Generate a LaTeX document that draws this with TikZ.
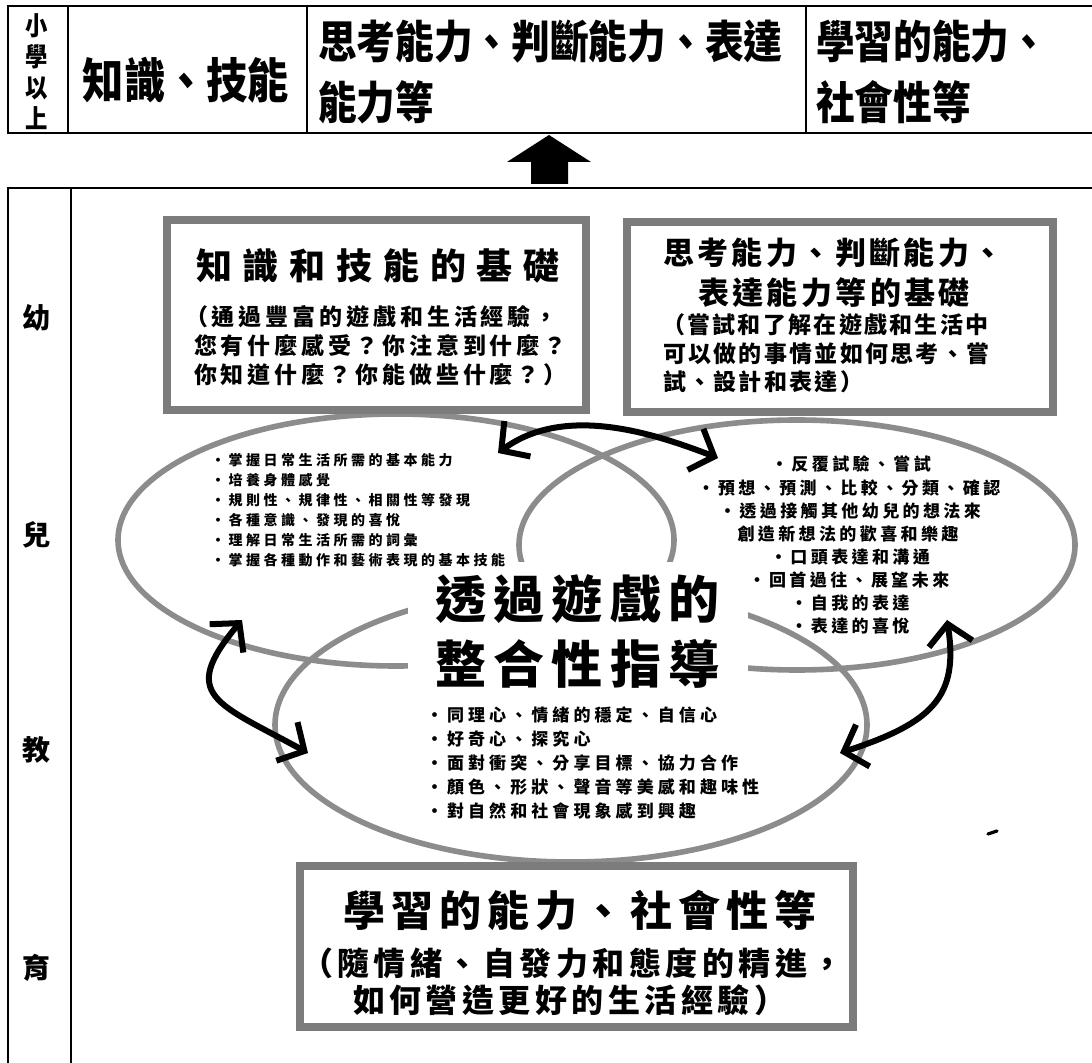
\documentclass[tikz,border=0pt]{standalone}
\usepackage{fontspec}
\setmainfont{Noto Sans CJK TC}
\usetikzlibrary{arrows.meta,shapes.geometric}
\definecolor{boxgray}{HTML}{7C7C7C}
\definecolor{ellgray}{HTML}{8C8C8C}
\newcommand\cjf[3]{\fontsize{#1}{#2}\selectfont\bfseries\addfontfeatures{LetterSpace=#3}}
\newcommand\cjn[2]{\fontsize{#1}{#2}\selectfont\bfseries\addfontfeatures{FakeStretch=0.86}}
\tikzset{
  frameline/.style={line width=1.1pt},
  gbox/.style={draw=boxgray,line width=4pt,fill=white,inner sep=0pt},
  ell/.style={draw=ellgray,line width=2.8pt,ellipse,inner sep=0pt},
  harrow/.style={line width=3pt,line cap=round,line join=round,
     arrows={Straight Barb[length=10pt,width=22pt]-Straight Barb[length=10pt,width=22pt]}},
  txt/.style={inner sep=0pt,outer sep=0pt},
  tabtxt/.style={txt,font=\cjn{22.5pt}{26pt}},
  b1sub/.style={txt,anchor=west,font=\cjf{11.5pt}{14pt}{17}},
  b2sub/.style={txt,anchor=west,font=\cjf{11.5pt}{14pt}{10}},
  lbul/.style={txt,anchor=west,font=\cjf{7pt}{9pt}{25}},
  rbul/.style={txt,font=\cjf{8.5pt}{10pt}{20}},
  bbul/.style={txt,anchor=west,font=\cjf{8.5pt}{10pt}{24}},
  side/.style={txt,font=\cjf{14pt}{16pt}{0}},
}
\begin{document}
\begin{tikzpicture}[x=0.5pt,y=-0.5pt]
\useasboundingbox (0,0) rectangle (1092,1063);
\fill[white] (0,0) rectangle (1092,1063);

% ---- top table
\draw[frameline] (1092,6) -- (8,6) -- (8,133) -- (1092,133);
\draw[frameline] (68,6) -- (68,133) (307,6) -- (307,133) (806,6) -- (806,133);
\node[txt,align=center,font=\cjn{13pt}{15.5pt}] (sx) at (37,72) {小\\學\\以\\上};
\node[txt,font=\cjn{24pt}{26pt}] (c2) at (186,80) {知識、技能};
\node[tabtxt,anchor=west] (c3a) at (318,42) {思考能力、判斷能力、表達};
\node[tabtxt,anchor=west] (c3b) at (318,102) {能力等};
\node[tabtxt,anchor=west] (c4a) at (816,42) {學習的能力、};
\node[tabtxt,anchor=west] (c4b) at (816,102) {社會性等};

% ---- big up arrow
\fill (531,184) -- (568,184) -- (568,162) -- (591,162) -- (549,135) -- (507,162) -- (531,162) -- cycle;

% ---- main frame
\draw[frameline] (1092,188) -- (8,188) -- (8,1063);
\draw[frameline] (71,188) -- (71,1063);
\node[side] (s1) at (36,318) {幼};
\node[side] (s2) at (36,535) {兒};
\node[side] (s3) at (36,750) {教};
\node[side] (s4) at (36,968) {育};

% ---- ellipses
\node[ell,minimum width=278pt,minimum height=126pt] (ellL) at (396,540) {};
\node[ell,minimum width=278pt,minimum height=125pt] (ellR) at (797,545) {};
\node[ell,minimum width=296pt,minimum height=137pt] (ellB) at (571,725) {};

% center (white ground hides the ellipse lines)
\node[txt,fill=white,minimum width=170pt,minimum height=69pt,align=center,
      font=\cjf{25.5pt}{32.5pt}{14}] (core) at (577.5,631) {透過遊戲的\\整合性指導};

% ---- boxes
\node[gbox,minimum width=209.5pt,minimum height=95pt] (box1) at (376.5,315) {};
\node[gbox,minimum width=213pt,minimum height=95pt] (box2) at (840,317) {};
\node[gbox,minimum width=276.5pt,minimum height=80.5pt] (box3) at (576.5,946.5) {};

% box 1 text
\node[txt,font=\cjf{18pt}{20pt}{30}] (b1t) at (378,266) {知識和技能的基礎};
\node[b1sub] (b1a) at (185,317) {（通過豐富的遊戲和生活經驗，};
\node[b1sub] (b1b) at (194,346) {您有什麼感受？你注意到什麼？};
\node[b1sub] (b1c) at (194,375) {你知道什麼？你能做些什麼？）};

% box 2 text
\node[txt,anchor=west,font=\cjf{15.5pt}{18pt}{11}] (b2t1) at (663,253) {思考能力、判斷能力、};
\node[txt,anchor=west,font=\cjf{15.5pt}{18pt}{11}] (b2t2) at (698,293) {表達能力等的基礎};
\node[b2sub] (b2a) at (662,325) {（嘗試和了解在遊戲和生活中};
\node[b2sub] (b2b) at (663,354) {可以做的事情並如何思考、嘗};
\node[b2sub] (b2c) at (663,382) {試、設計和表達）};

% box 3 text
\node[txt,font=\cjf{21pt}{24pt}{14}] (b3t) at (580,910) {學習的能力、社會性等};
\node[txt,anchor=west,font=\cjf{16pt}{18pt}{14}] (b3a) at (301,963) {（隨情緒、自發力和態度的精進，};
\node[txt,anchor=west,font=\cjf{16pt}{18pt}{14}] (b3b) at (353,1000) {如何營造更好的生活經驗）};

% left ellipse bullets
\node[lbul] (l1) at (211,460) {·掌握日常生活所需的基本能力};
\node[lbul] (l2) at (211,480) {·培養身體感覺};
\node[lbul] (l3) at (211,500) {·規則性、規律性、相關性等發現};
\node[lbul] (l4) at (211,520) {·各種意識、發現的喜悅};
\node[lbul] (l5) at (211,540) {·理解日常生活所需的詞彙};
\node[lbul] (l6) at (211,560) {·掌握各種動作和藝術表現的基本技能};

% right ellipse bullets
\node[rbul] (r1) at (851,464) {·反覆試驗、嘗試};
\node[rbul] (r2) at (849,488) {·預想、預測、比較、分類、確認};
\node[rbul] (r3) at (850,511) {·透過接觸其他幼兒的想法來};
\node[rbul] (r4) at (848,534) {創造新想法的歡喜和樂趣};
\node[rbul] (r5) at (850,557) {·口頭表達和溝通};
\node[rbul] (r6) at (849,580) {·回首過往、展望未來};
\node[rbul] (r7) at (850,603) {·自我的表達};
\node[rbul] (r8) at (850,626) {·表達的喜悅};

% bottom ellipse bullets
\node[bbul] (m1) at (426,715) {·同理心、情緒的穩定、自信心};
\node[bbul] (m2) at (426,739) {·好奇心、探究心};
\node[bbul] (m3) at (426,763) {·面對衝突、分享目標、協力合作};
\node[bbul] (m4) at (426,787) {·顏色、形狀、聲音等美感和趣味性};
\node[bbul] (m5) at (426,811) {·對自然和社會現象感到興趣};

% ---- curved double arrows
\coordinate (a1s) at (498,453); \coordinate (a1e) at (718,458);
\draw[harrow] (a1s) .. controls (566,403) and (658,435) .. (a1e);
\coordinate (a2s) at (242,620); \coordinate (a2e) at (308,753);
\draw[harrow] (a2s) .. controls (178,696) and (217,703) .. (a2e);
\coordinate (a3s) at (947,620); \coordinate (a3e) at (840,753);
\draw[harrow] (a3s) .. controls (959,697) and (932,723) .. (a3e);

% stray mark
\draw[line width=1.6pt,line cap=round] (988,834) -- (997,831);
\end{tikzpicture}
\end{document}
